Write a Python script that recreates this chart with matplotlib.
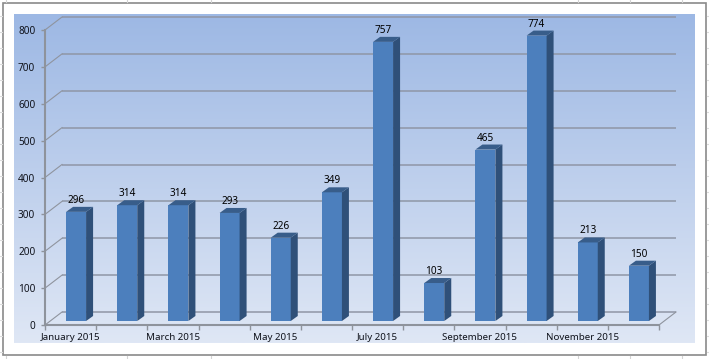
import matplotlib
matplotlib.use("Agg")
import matplotlib.pyplot as plt
import numpy as np
from matplotlib.patches import Polygon, Rectangle

months = ["January 2015", "February 2015", "March 2015", "April 2015", "May 2015", "June 2015",
          "July 2015", "August 2015", "September 2015", "October 2015", "November 2015", "December 2015"]
values = [296, 314, 314, 293, 226, 349, 757, 103, 465, 774, 213, 150]
y_ticks = [0, 100, 200, 300, 400, 500, 600, 700, 800]

W, H = 709, 359
plt.rcParams['font.family'] = ['Noto Sans', 'DejaVu Sans']

fig = plt.figure(figsize=(W / 100, H / 100), dpi=100, facecolor='white')

# frame around the chart and the gradient behind the plot
bg = fig.add_axes([0, 0, 1, 1])
bg.set_xlim(0, W)
bg.set_ylim(H, 0)
bg.axis('off')
for x in [6, 127, 211, 578, 630, 682]:
    bg.plot([x, x], [0, 2], color='#d4d4d4', lw=0.8)
    bg.plot([x, x], [356, 359], color='#d4d4d4', lw=0.8)
for y in [16, 32, 48, 64, 80, 96, 112, 128, 144, 160, 176, 192, 208, 224, 240, 256, 272, 288, 304, 320, 336, 352]:
    bg.plot([0, 2], [y, y], color='#dcdcdc', lw=0.8)
    bg.plot([707, 709], [y, y], color='#dcdcdc', lw=0.8)
bg.add_patch(Rectangle((2.5, 2.5), 703.5, 352.5, fc='white', ec='#8a8a8a', lw=1.2))
top_col = np.array([157, 184, 228]) / 255
bot_col = np.array([223, 231, 245]) / 255
t = np.linspace(0, 1, 256)[:, None, None]
grad = top_col[None, None, :] * (1 - t) + bot_col[None, None, :] * t
bg.imshow(grad, extent=[14, 695, 343, 14], aspect='auto', zorder=2)
bg.set_xlim(0, W)
bg.set_ylim(H, 0)

# main axes, front plane of the fake 3d box
ax = fig.add_axes([45 / W, 1 - 325 / H, 614 / W, 295 / H])
ax.patch.set_alpha(0)
ax.set_xlim(0, 12)
ax.set_ylim(0, 800)
for s in ['top', 'right']:
    ax.spines[s].set_visible(False)
for s in ['left', 'bottom']:
    ax.spines[s].set_color('#8e939c')
    ax.spines[s].set_linewidth(1.5)

# depth offsets in data units
px_x = 12 / 614
px_y = 800 / 295
wall_dx, wall_dy = 17 * px_x, 13 * px_y
bar_dx, bar_dy = 7 * px_x, 5 * px_y
lift = 4 * px_y
shift = 5.5 * px_x
bar_w = 20 * px_x

grid_col = '#8f96a6'
for v in y_ticks:
    ax.plot([wall_dx, 12 + wall_dx], [v + wall_dy, v + wall_dy], color=grid_col, lw=1.1,
            clip_on=False, zorder=1, solid_capstyle='butt')
    ax.plot([0, wall_dx], [v, v + wall_dy], color='#8f949e', lw=0.8, clip_on=False, zorder=1)
ax.plot([12, 12 + wall_dx], [0, wall_dy], color='#8f949e', lw=0.8, clip_on=False, zorder=1)

xs = np.arange(12) + 0.5 + shift
ax.bar(xs, values, width=bar_w, bottom=lift, color='#4c7fbd', linewidth=0, zorder=3)
for x, v in zip(xs, values):
    l, r = x - bar_w / 2, x + bar_w / 2
    top = v + lift
    ax.add_patch(Polygon([(r, lift), (r + bar_dx, lift + bar_dy), (r + bar_dx, top + bar_dy), (r, top)],
                         fc='#2f5079', ec='none', zorder=3, clip_on=False))
    ax.add_patch(Polygon([(l, top), (r, top), (r + bar_dx, top + bar_dy), (l + bar_dx, top + bar_dy)],
                         fc='#385d8a', ec='none', zorder=3, clip_on=False))
    ax.text(x, top + bar_dy + 1 * px_y, str(v), ha='center', va='bottom', fontsize=7.2,
            color='black', zorder=4, clip_on=False)

ax.set_yticks(y_ticks)
ax.tick_params(axis='y', length=3, width=1, color='#8e939c', labelsize=7.2, labelcolor='#10131c', pad=4)
ax.set_xticks(np.arange(13))
ax.set_xticklabels([])
ax.tick_params(axis='x', length=3.6, width=1, color='#8e939c', direction='out')
for i in range(0, 12, 2):
    ax.text(i + 0.5, -33, months[i], ha='center', va='center', fontsize=7, color='#10131c', clip_on=False)

fig.savefig("out.png", dpi=100)
